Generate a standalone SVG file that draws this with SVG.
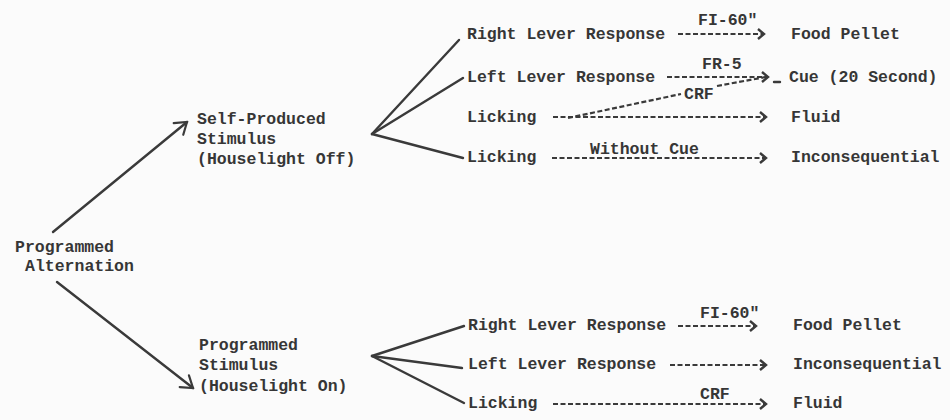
<svg xmlns="http://www.w3.org/2000/svg" width="950" height="420" viewBox="0 0 950 420">
<defs>
<style>
text{font-family:"Liberation Mono","DejaVu Sans Mono",monospace;font-size:16.5px;font-weight:bold;fill:#363636}
.solid{stroke:#3a3a3a;stroke-width:2.4;fill:none;stroke-linecap:round}
.dash{stroke:#3a3a3a;stroke-width:2.2;fill:none;stroke-dasharray:5 2.5}
</style>
<marker id="open" viewBox="-14 -10 16 20" refX="0" refY="0" markerWidth="16" markerHeight="20" markerUnits="userSpaceOnUse" orient="auto">
<path d="M-11,-7.5 L0,0 L-11,7.5" fill="none" stroke="#3a3a3a" stroke-width="2.2" stroke-linecap="round"/>
</marker>
<marker id="chev" viewBox="-9 -7 11 14" refX="0" refY="0" markerWidth="11" markerHeight="14" markerUnits="userSpaceOnUse" orient="auto">
<path d="M-6,-5 L0,0 L-6,5" fill="none" stroke="#3a3a3a" stroke-width="2.4"/>
</marker>
</defs>
<rect width="950" height="420" fill="#fbfbfb"/>

<g id="connectors">
<line class="solid" x1="53" y1="232" x2="187" y2="122" marker-end="url(#open)"/>
<line class="solid" x1="57" y1="282" x2="193" y2="388" marker-end="url(#open)"/>
<line class="solid" x1="372" y1="134" x2="459" y2="40"/>
<line class="solid" x1="372" y1="134" x2="463" y2="78"/>
<line class="solid" x1="372" y1="134" x2="463" y2="158"/>
<line class="solid" x1="372" y1="356" x2="464" y2="326"/>
<line class="solid" x1="372" y1="356" x2="462" y2="368"/>
<line class="solid" x1="372" y1="356" x2="464" y2="403"/>
<line class="dash" x1="678" y1="34" x2="764" y2="34" marker-end="url(#chev)"/>
<line class="dash" x1="667" y1="77" x2="768" y2="77" marker-end="url(#chev)"/>
<line class="solid" x1="774" y1="82" x2="780" y2="82" stroke-width="2"/>
<line class="dash" x1="553" y1="117" x2="766" y2="117" marker-end="url(#chev)"/>
<line class="dash" x1="568" y1="118" x2="681" y2="94"/>
<line class="dash" x1="717" y1="86" x2="766" y2="77"/>
<line class="dash" x1="552" y1="158" x2="766" y2="158" marker-end="url(#chev)"/>
<line class="dash" x1="678" y1="326" x2="756" y2="326" marker-end="url(#chev)"/>
<line class="dash" x1="670" y1="365" x2="766" y2="365" marker-end="url(#chev)"/>
<line class="dash" x1="553" y1="404" x2="766" y2="404" marker-end="url(#chev)"/>
</g>

<g id="edge-labels">
<text x="698" y="25">FI-60"</text>
<text x="702" y="69">FR-5</text>
<text x="684" y="99">CRF</text>
<text x="590" y="154">Without Cue</text>
<text x="700" y="318">FI-60"</text>
<text x="700" y="399">CRF</text>
</g>

<g id="node-programmed-alternation">
<text x="15" y="252">Programmed</text>
<text x="25" y="271">Alternation</text>
</g>
<g id="node-self-produced-stimulus">
<text x="197" y="124">Self-Produced</text>
<text x="197" y="144">Stimulus</text>
<text x="197" y="164">(Houselight Off)</text>
</g>
<g id="node-programmed-stimulus">
<text x="199" y="350">Programmed</text>
<text x="199" y="370">Stimulus</text>
<text x="199" y="391">(Houselight On)</text>
</g>

<g id="node-off-right-lever"><text x="467" y="39">Right Lever Response</text></g>
<g id="node-off-left-lever"><text x="467" y="82">Left Lever Response</text></g>
<g id="node-off-licking-1"><text x="467" y="122">Licking</text></g>
<g id="node-off-licking-2"><text x="467" y="162">Licking</text></g>
<g id="node-off-food"><text x="791" y="39">Food Pellet</text></g>
<g id="node-off-cue"><text x="789" y="82">Cue (20 Second)</text></g>
<g id="node-off-fluid"><text x="791" y="122">Fluid</text></g>
<g id="node-off-inconsequential"><text x="791" y="162">Inconsequential</text></g>

<g id="node-on-right-lever"><text x="468" y="330">Right Lever Response</text></g>
<g id="node-on-left-lever"><text x="468" y="369">Left Lever Response</text></g>
<g id="node-on-licking"><text x="468" y="408">Licking</text></g>
<g id="node-on-food"><text x="793" y="330">Food Pellet</text></g>
<g id="node-on-inconsequential"><text x="793" y="369">Inconsequential</text></g>
<g id="node-on-fluid"><text x="793" y="408">Fluid</text></g>
</svg>
